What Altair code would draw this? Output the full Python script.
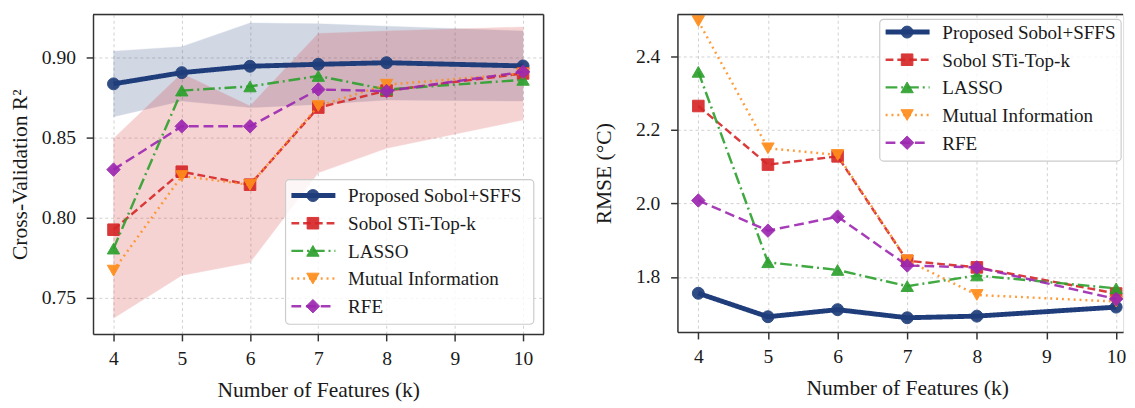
import altair as alt
import pandas as pd

# ---------------- data ----------------
k = [4, 5, 6, 7, 8, 10]
methods = ["Proposed Sobol+SFFS", "Sobol STi-Top-k", "LASSO", "Mutual Information", "RFE"]

cv_proposed = [0.8835, 0.8905, 0.8945, 0.8957, 0.8967, 0.8947]
cv_sobol = [0.7925, 0.8287, 0.8206, 0.8687, 0.8793, 0.8900]
cv_lasso = [0.7807, 0.8793, 0.8819, 0.8884, 0.8800, 0.8860]
cv_mi = [0.7670, 0.8260, 0.8205, 0.8697, 0.8830, 0.8900]
cv_rfe = [0.8300, 0.8570, 0.8570, 0.8800, 0.8790, 0.8910]

band_proposed_lo = [0.8630, 0.8728, 0.8687, 0.8707, 0.8734, 0.8728]
band_proposed_hi = [0.9039, 0.9067, 0.9215, 0.9210, 0.9195, 0.9165]
band_sobol_lo = [0.7372, 0.7640, 0.7720, 0.8280, 0.8433, 0.8610]
band_sobol_hi = [0.8494, 0.8900, 0.8697, 0.9150, 0.9165, 0.9190]

rmse_proposed = [1.7556, 1.6917, 1.7110, 1.6890, 1.6934, 1.7180]
rmse_sobol = [2.2650, 2.1056, 2.1280, 1.8440, 1.8260, 1.7550]
rmse_lasso = [2.3580, 1.8400, 1.8190, 1.7750, 1.8040, 1.7690]
rmse_mi = [2.4960, 2.1500, 2.1320, 1.8450, 1.7510, 1.7330]
rmse_rfe = [2.0080, 1.9260, 1.9640, 1.8310, 1.8260, 1.7400]

x_ticks = [4, 5, 6, 7, 8, 9, 10]
cv_ticks = [0.75, 0.80, 0.85, 0.90]
rmse_ticks = [1.8, 2.0, 2.2, 2.4]

# ---------------- styles ----------------
FONT = "Liberation Serif"
colors = ["#1f3d7a", "#d62728", "#2ca02c", "#ff8c1a", "#9c27b0"]
shapes = ["circle", "square", "triangle-up", "triangle-down", "diamond"]
dashes = [[1, 0], [8, 4], [12, 4, 2, 4], [2, 4], [10, 5]]
widths = [5, 2.5, 2.5, 2.5, 2.5]
line_opac = [1.0, 0.9, 0.9, 0.85, 0.9]
msizes = [150, 140, 160, 160, 190]

LW, LH = 461, 327
RW, RH = 456, 325
LX = [3.7, 10.3]
RX = [3.7, 10.10]
LY = [0.7274, 0.9268]
RY = [1.650, 2.514]


def x_enc(dom, title, title_x=None):
    ax = dict(values=x_ticks, format="d", title=title, grid=True,
              gridDash=[3, 3], gridColor="#d0d0d0", gridWidth=1,
              domain=True, domainColor="#333333", domainWidth=1.5,
              ticks=True, tickSize=7, tickColor="#333333", tickWidth=1.5,
              labelFont=FONT, labelFontSize=20, labelColor="#1a1a1a", labelPadding=8,
              titleFont=FONT, titleFontSize=22, titleFontWeight="normal",
              titleColor="#1a1a1a", titlePadding=12)
    if title_x is not None:
        ax["titleX"] = title_x
    return alt.X("k:Q", scale=alt.Scale(domain=dom, nice=False, zero=False),
                 axis=alt.Axis(**ax))


def y_enc(field, dom, ticks, fmt, title, title_pad):
    return alt.Y(field, scale=alt.Scale(domain=dom, nice=False, zero=False),
                 axis=alt.Axis(values=ticks, format=fmt, title=title, grid=True,
                               gridDash=[3, 3], gridColor="#d0d0d0", gridWidth=1,
                               domain=True, domainColor="#333333", domainWidth=1.5,
                               ticks=True, tickSize=7, tickColor="#333333", tickWidth=1.5,
                               labelFont=FONT, labelFontSize=20, labelColor="#1a1a1a",
                               labelPadding=11,
                               titleFont=FONT, titleFontSize=22, titleFontWeight="normal",
                               titleColor="#1a1a1a", titlePadding=title_pad))


def panel(series, bands, xdom, ydom, yticks, yfmt, ytitle, title_pad, w, h,
          leg_box, leg_rows, leg_x, title_x=None, right_frame=True):
    layers = []
    first = True
    xe = x_enc(xdom, "Number of Features (k)", title_x)
    # bands
    for lo, hi, c in bands:
        dfb = pd.DataFrame({"k": k, "lo": lo, "hi": hi})
        enc = dict(x=xe if first else alt.X("k:Q"),
                   y=y_enc("lo:Q", ydom, yticks, yfmt, ytitle, title_pad) if first else alt.Y("lo:Q"),
                   y2="hi:Q")
        first = False
        layers.append(alt.Chart(dfb).mark_area(color=c, opacity=0.2, stroke=c,
                                               strokeWidth=1, strokeOpacity=0.35).encode(**enc))
    # lines + markers
    for i, vals in enumerate(series):
        df = pd.DataFrame({"k": k, "v": vals})
        enc_x = xe if first else alt.X("k:Q")
        enc_y = y_enc("v:Q", ydom, yticks, yfmt, ytitle, title_pad) if first else alt.Y("v:Q")
        first = False
        layers.append(alt.Chart(df).mark_line(
            color=colors[i], strokeWidth=widths[i], strokeDash=dashes[i],
            opacity=line_opac[i], strokeCap="butt").encode(x=enc_x, y=enc_y))
        layers.append(alt.Chart(df).mark_point(
            shape=shapes[i], filled=True, size=msizes[i], color=colors[i],
            stroke=colors[i], strokeWidth=1, opacity=0.92).encode(x="k:Q", y="v:Q"))
    # frame: top and right
    layers.append(alt.Chart(pd.DataFrame({"a": [0]})).mark_rule(
        color="#333333", strokeWidth=1.5).encode(
        x=alt.value(0), x2=alt.value(w), y=alt.value(0)))
    if right_frame:
        layers.append(alt.Chart(pd.DataFrame({"a": [0]})).mark_rule(
            color="#333333", strokeWidth=1.5).encode(
            x=alt.value(w), y=alt.value(0), y2=alt.value(h)))
    # legend
    bx0, by0, bx1, by1 = leg_box
    layers.append(alt.Chart(pd.DataFrame({"a": [0]})).mark_rect(
        fill="white", fillOpacity=0.8, stroke="#cccccc", strokeWidth=1.2,
        cornerRadius=4).encode(x=alt.value(bx0), x2=alt.value(bx1),
                                y=alt.value(by0), y2=alt.value(by1)))
    r0, dr = leg_rows
    hx0, hx1, mx, tx = leg_x
    for i, m in enumerate(methods):
        yy = r0 + i * dr
        d1 = pd.DataFrame({"m": [m]})
        layers.append(alt.Chart(d1).mark_rule(
            color=colors[i], strokeWidth=widths[i], strokeDash=dashes[i],
            opacity=line_opac[i], strokeCap="butt").encode(
            x=alt.value(hx0), x2=alt.value(hx1), y=alt.value(yy)))
        layers.append(alt.Chart(d1).mark_point(
            shape=shapes[i], filled=True, size=msizes[i], color=colors[i],
            stroke=colors[i], strokeWidth=1, opacity=0.92).encode(
            x=alt.value(mx), y=alt.value(yy)))
        layers.append(alt.Chart(d1).mark_text(
            align="left", baseline="middle", font=FONT, fontSize=19.5,
            color="#1a1a1a").encode(x=alt.value(tx), y=alt.value(yy + 1), text="m:N"))
    return alt.layer(*layers).properties(width=w, height=h)


left = panel(
    [cv_proposed, cv_sobol, cv_lasso, cv_mi, cv_rfe],
    [(band_proposed_lo, band_proposed_hi, colors[0]), (band_sobol_lo, band_sobol_hi, colors[1])],
    LX, LY, cv_ticks, ".2f", "Cross-Validation R²", 10, LW, LH,
    (197, 169, 451, 317), (185.3, 28.3), (203, 248, 225, 261))

right = panel(
    [rmse_proposed, rmse_sobol, rmse_lasso, rmse_mi, rmse_rfe],
    [],
    RX, RY, rmse_ticks, ".1f", "RMSE (°C)", 21, RW, RH,
    (207, 5, 454, 150), (18, 28.3), (213, 258, 235, 271),
    title_x=235, right_frame=False)

chart = alt.hconcat(left, right, spacing=47).properties(
    padding={"left": 0, "top": 0, "right": 0, "bottom": 0}
).configure_view(stroke=None).configure(background="white")

chart.save("out.html", embed_options={"renderer": "svg", "actions": False})
